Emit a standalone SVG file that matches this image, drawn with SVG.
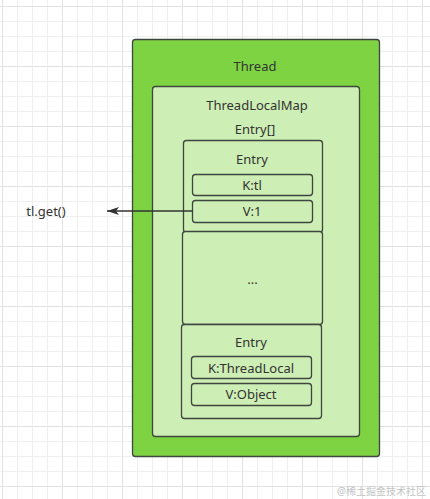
<svg xmlns="http://www.w3.org/2000/svg" width="430" height="499" viewBox="0 0 430 499">
<defs>
<pattern id="g" x="2" y="6" width="60" height="60" patternUnits="userSpaceOnUse">
<path d="M0.5 0V60M15.5 0V60M30.5 0V60M45.5 0V60M0 0.5H60M0 15.5H60M0 30.5H60M0 45.5H60" stroke="#efefef" stroke-width="1" fill="none"/>
<path d="M0.5 0V60M0 0.5H60" stroke="#e2e2e2" stroke-width="1" fill="none"/>
</pattern>
<marker id="arr" markerWidth="12" markerHeight="8" refX="12" refY="4" orient="auto" markerUnits="userSpaceOnUse">
<path d="M0 0L12 4L0 8L3 4Z" fill="#333"/>
</marker>
<style>
.box{stroke:#3f453f;stroke-width:1.3}
.t{font-family:"Noto Sans","Open Sans",sans-serif;font-size:13px;fill:#333;text-anchor:middle}
.outer{fill:#7ed343}
.light{fill:#cdeeb5}
</style>
</defs>
<rect width="430" height="499" fill="#fff"/>
<rect width="430" height="499" fill="url(#g)"/>
<g id="thread">
<rect class="box outer" x="132.5" y="39.5" width="247" height="417" rx="3"/>
<text class="t" x="255" y="71">Thread</text>
</g>
<g id="threadlocalmap">
<rect class="box light" x="152.5" y="86.5" width="207" height="350" rx="3"/>
<text class="t" x="257" y="110">ThreadLocalMap</text>
<text class="t" x="255" y="134">Entry[]</text>
</g>
<g id="entry1">
<rect class="box light" x="183.5" y="140.5" width="139" height="92" rx="3"/>
<text class="t" x="252" y="164">Entry</text>
</g>
<g id="k-tl">
<rect class="box light" x="192.5" y="174.5" width="120" height="21" rx="3"/>
<text class="t" x="252" y="189.5">K:tl</text>
</g>
<g id="v-1">
<rect class="box light" x="192.5" y="200.5" width="120" height="22" rx="3"/>
<text class="t" x="252" y="216">V:1</text>
</g>
<g id="ellipsis">
<rect class="box light" x="182.5" y="231.5" width="140" height="93" rx="3"/>
<text class="t" x="252.5" y="284">...</text>
</g>
<g id="entry2">
<rect class="box light" x="181.5" y="324.5" width="140" height="94" rx="3"/>
<text class="t" x="251" y="347">Entry</text>
</g>
<g id="k-threadlocal">
<rect class="box light" x="191.5" y="356.5" width="120" height="22" rx="3"/>
<text class="t" x="251" y="372.5">K:ThreadLocal</text>
</g>
<g id="v-object">
<rect class="box light" x="191.5" y="383.5" width="120" height="22" rx="3"/>
<text class="t" x="251" y="398.5">V:Object</text>
</g>
<g id="tlget">
<text class="t" x="46" y="215.5">tl.get()</text>
</g>
<g id="connectors">
<path d="M192.5 211H107" stroke="#333" stroke-width="1.3" fill="none" marker-end="url(#arr)"/>
</g>
<text x="426" y="495" font-family="'Noto Sans','Noto Sans CJK SC',sans-serif" font-size="10" fill="#c4c4c4" text-anchor="end">@稀土掘金技术社区</text>
</svg>
